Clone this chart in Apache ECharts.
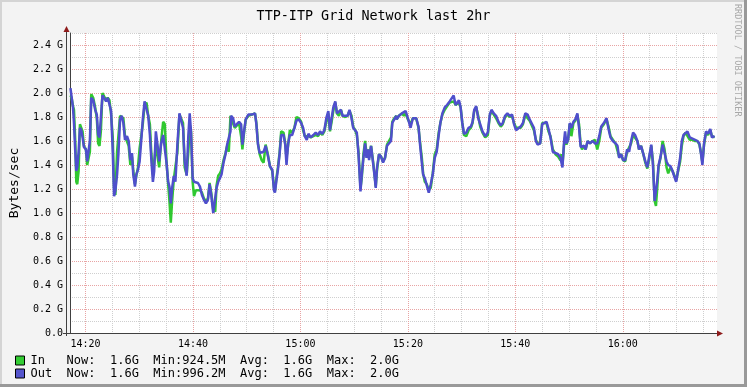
<!DOCTYPE html>
<html>
<head>
<meta charset="utf-8">
<script src="https://cdn.jsdelivr.net/npm/echarts@6/dist/echarts.min.js"></script>
<style>
html,body{margin:0;padding:0;background:#f3f3f3;}
#c{width:747px;height:387px;}
</style>
</head>
<body>
<div id="c"></div>
<script>
// time in minutes after 14:00
const times = [
17.2,17.41,17.66,17.85,18.09,18.28,18.46,18.71,18.96,19.2,19.45,19.7,20.07,20.31,20.56,20.81,21.06,21.43,21.8,22.1,22.35,22.6,22.85,23.15,23.52,23.83,24.14,24.45,24.76,25.07,25.31,25.56,25.87,26.12,26.43,26.73,27.04,27.35,27.72,28.03,28.34,28.65,28.89,29.2,29.45,29.76,30.07,30.38,30.68,30.99,31.36,31.67,31.98,32.23,32.54,32.78,33.09,33.4,33.71,34.08,34.45,34.76,35.07,35.38,35.62,35.87,36.12,36.43,36.73,37.1,37.48,37.85,38.15,38.46,38.83,39.14,39.39,39.64,39.94,40.19,40.56,40.93,41.3,41.67,42.04,42.41,42.78,43.09,43.4,43.77,44.14,44.39,44.7,45.01,45.31,45.69,46.06,46.36,46.67,46.98,
47.10,47.47,47.78,48.15,48.58,48.96,49.20,49.51,49.82,50.31,50.93,51.55,51.80,52.10,52.41,52.78,53.15,53.52,53.89,54.33,54.76,55.07,55.25,55.50,55.81,56.12,56.42,56.86,57.17,57.41,57.72,58.03,58.46,58.89,59.26,59.70,60.13,60.50,60.81,61.18,61.49,61.92,62.41,62.84,63.28,63.65,64.08,64.45,64.82,65.19,65.50,65.81,66.12,66.49,66.80,67.17,67.54,67.85,68.34,68.77,69.14,69.51,69.82,70.19,70.50,70.81,71.18,71.42,71.73,72.04,72.29,72.54,72.78,73.15,73.52,73.77,74.02,74.26,74.63,75.00,75.38,75.75,76.12,76.49,76.86,77.10,77.47,77.85,
77.91,78.34,78.89,79.26,79.57,80.00,80.50,80.93,81.55,81.98,82.29,82.60,82.84,83.15,83.52,83.89,84.26,84.63,85.00,85.37,85.74,86.05,86.42,86.86,87.29,87.78,88.15,88.52,88.89,89.20,89.51,89.82,90.13,90.44,90.87,91.30,91.73,92.04,92.35,92.72,93.09,93.46,93.89,94.39,94.88,95.25,95.56,95.99,96.42,96.86,97.29,97.66,98.09,98.52,98.95,99.39,99.76,100.13,100.50,100.99,101.42,101.86,102.29,102.66,103.03,103.46,103.83,104.14,104.63,105.00,105.37,105.81,106.18,106.55,106.98,107.47,107.97,108.40,
108.58,108.77,109.08,109.26,109.51,109.82,110.13,110.44,110.81,111.18,111.55,111.86,112.16,112.41,112.78,113.09,113.46,113.89,114.39,114.82,115.25,115.62,115.99,116.48,116.98,117.35,117.72,118.15,118.65,119.02,119.32,119.69,120.06,120.44,120.81,121.18,121.55,121.92,122.29,122.72,123.03,123.40,123.83,124.20,124.57,124.88,125.31,125.62,125.93,126.18,126.42,126.67,127.04,127.41,127.78,128.15,128.46,128.89,129.26,129.63,129.94,130.31,130.68,130.99,131.30,131.67,132.04,132.47,132.97,133.46,133.89,134.26,134.57,134.82,135.13,135.50,135.87,136.30,136.60,136.91,137.10
];
// GB/s
const inValues = [
1.98,1.96,1.89,1.86,1.60,1.26,1.24,1.35,1.74,1.74,1.68,1.56,1.53,1.40,1.39,1.51,1.99,1.96,1.88,1.79,1.58,1.56,1.68,2.00,1.99,1.94,1.96,1.94,1.82,1.63,1.21,1.15,1.51,1.64,1.81,1.82,1.79,1.64,1.63,1.56,1.40,1.47,1.35,1.24,1.31,1.38,1.54,1.64,1.75,1.90,1.92,1.81,1.74,1.51,1.32,1.31,1.56,1.57,1.38,1.60,1.76,1.74,1.43,1.24,1.10,0.92,1.10,1.28,1.29,1.51,1.82,1.83,1.75,1.38,1.32,1.51,1.74,1.68,1.26,1.14,1.19,1.18,1.19,1.17,1.12,1.10,1.12,1.25,1.17,1.03,1.01,1.23,1.31,1.33,1.36,1.44,1.50,1.56,1.51,1.81,
1.79,1.79,1.71,1.71,1.75,1.64,1.53,1.67,1.78,1.81,1.82,1.83,1.75,1.58,1.49,1.44,1.42,1.57,1.50,1.39,1.35,1.21,1.18,1.28,1.38,1.50,1.68,1.67,1.58,1.46,1.57,1.69,1.67,1.71,1.80,1.79,1.76,1.69,1.64,1.63,1.64,1.63,1.64,1.65,1.64,1.67,1.65,1.68,1.76,1.83,1.68,1.76,1.85,1.92,1.83,1.81,1.86,1.81,1.80,1.81,1.85,1.81,1.72,1.69,1.65,1.51,1.21,1.29,1.49,1.60,1.50,1.53,1.46,1.56,1.43,1.33,1.22,1.36,1.49,1.47,1.43,1.46,1.57,1.57,1.63,1.76,1.79,1.81,
1.78,1.81,1.83,1.81,1.83,1.78,1.74,1.79,1.79,1.71,1.58,1.46,1.33,1.26,1.24,1.19,1.21,1.33,1.49,1.53,1.67,1.75,1.82,1.86,1.89,1.92,1.93,1.93,1.90,1.90,1.92,1.88,1.75,1.65,1.64,1.69,1.71,1.75,1.85,1.88,1.81,1.72,1.67,1.63,1.65,1.81,1.85,1.82,1.79,1.75,1.72,1.74,1.80,1.82,1.80,1.81,1.75,1.71,1.70,1.71,1.74,1.82,1.79,1.77,1.78,1.69,1.61,1.58,1.58,1.75,1.76,1.75,1.68,1.64,1.53,1.49,1.47,1.44,
1.49,1.40,1.57,1.63,1.57,1.61,1.74,1.64,1.75,1.77,1.82,1.74,1.57,1.53,1.56,1.53,1.60,1.58,1.60,1.61,1.53,1.60,1.71,1.74,1.78,1.72,1.64,1.61,1.58,1.57,1.47,1.49,1.44,1.43,1.51,1.50,1.58,1.65,1.64,1.60,1.53,1.56,1.49,1.42,1.37,1.44,1.56,1.43,1.10,1.06,1.21,1.39,1.46,1.60,1.53,1.38,1.33,1.38,1.35,1.31,1.27,1.35,1.43,1.56,1.64,1.67,1.68,1.61,1.61,1.60,1.60,1.57,1.50,1.42,1.57,1.67,1.65,1.69,1.64,1.63,1.63
];
const outValues = [
2.04,2.03,1.88,1.75,1.51,1.35,1.38,1.51,1.71,1.69,1.63,1.55,1.53,1.43,1.44,1.60,1.96,1.94,1.86,1.82,1.65,1.63,1.79,1.98,1.97,1.93,1.96,1.95,1.85,1.51,1.14,1.19,1.32,1.49,1.78,1.81,1.75,1.61,1.64,1.60,1.44,1.50,1.32,1.22,1.32,1.36,1.43,1.61,1.79,1.93,1.92,1.81,1.65,1.46,1.26,1.35,1.68,1.57,1.43,1.58,1.65,1.64,1.42,1.26,1.22,1.08,1.21,1.31,1.26,1.57,1.83,1.83,1.71,1.43,1.31,1.65,1.83,1.67,1.29,1.26,1.26,1.25,1.22,1.15,1.11,1.08,1.11,1.24,1.15,1.00,1.01,1.21,1.26,1.29,1.32,1.42,1.49,1.57,1.56,1.68,
1.81,1.79,1.72,1.74,1.76,1.74,1.57,1.68,1.78,1.82,1.82,1.83,1.74,1.57,1.50,1.50,1.51,1.56,1.49,1.39,1.36,1.19,1.17,1.26,1.36,1.49,1.65,1.65,1.57,1.40,1.58,1.65,1.65,1.71,1.77,1.78,1.75,1.71,1.64,1.61,1.66,1.63,1.65,1.67,1.65,1.68,1.66,1.69,1.79,1.85,1.69,1.79,1.88,1.93,1.83,1.82,1.86,1.81,1.81,1.81,1.86,1.79,1.71,1.72,1.67,1.49,1.18,1.32,1.46,1.58,1.46,1.53,1.44,1.56,1.42,1.32,1.21,1.38,1.49,1.47,1.42,1.46,1.56,1.56,1.60,1.75,1.78,1.81,
1.78,1.81,1.83,1.82,1.85,1.79,1.71,1.79,1.79,1.72,1.56,1.42,1.32,1.29,1.28,1.17,1.24,1.32,1.46,1.51,1.65,1.75,1.83,1.88,1.90,1.93,1.94,1.98,1.90,1.90,1.94,1.88,1.75,1.66,1.67,1.71,1.72,1.76,1.86,1.89,1.79,1.74,1.68,1.64,1.67,1.82,1.86,1.83,1.81,1.76,1.73,1.75,1.81,1.83,1.81,1.82,1.74,1.69,1.68,1.72,1.75,1.83,1.82,1.78,1.79,1.71,1.60,1.57,1.58,1.74,1.75,1.76,1.70,1.63,1.51,1.50,1.49,1.46,
1.47,1.38,1.60,1.68,1.58,1.61,1.75,1.71,1.76,1.78,1.83,1.71,1.55,1.54,1.56,1.53,1.60,1.58,1.60,1.58,1.58,1.64,1.72,1.75,1.79,1.70,1.63,1.60,1.58,1.56,1.46,1.49,1.44,1.44,1.53,1.51,1.60,1.67,1.65,1.60,1.53,1.56,1.49,1.43,1.38,1.46,1.57,1.40,1.10,1.10,1.27,1.40,1.47,1.57,1.50,1.43,1.40,1.39,1.35,1.30,1.26,1.36,1.46,1.60,1.65,1.64,1.68,1.63,1.62,1.61,1.60,1.58,1.49,1.40,1.58,1.68,1.66,1.70,1.63,1.63,1.64
];
const seriesNames = ['In', 'Out'];
const statNow = ['1.6G', '1.6G'];
const statMin = ['924.5M', '996.2M'];
const statAvg = ['1.6G', '1.6G'];
const statMax = ['2.0G', '2.0G'];
const xTickMinutes = [20,25,30,35,40,45,50,55,60,65,70,75,80,85,90,95,100,105,110,115,120,125,130,135];
const xLabelMinutes = [20,40,60,80,100,120];

const MONO = 'DejaVu Sans Mono';
const RED_GRID = '#E8A4A4';
const GREY_GRID = '#CFCFCF';

function hhmm(m) {
  const h = 14 + Math.floor(m / 60);
  const mm = Math.round(m % 60);
  return h + ':' + (mm < 10 ? '0' : '') + mm;
}
function pad(s, n) { while (s.length < n) s += ' '; return s; }
const legendText = {};
seriesNames.forEach((n, i) => {
  legendText[n] = pad(n, 5) + 'Now:  ' + statNow[i] + '  Min:' + statMin[i] + '  Avg:  ' + statAvg[i] + '  Max:  ' + statMax[i];
});

const inData = times.map((t, i) => [t, inValues[i]]);
const outData = times.map((t, i) => [t, outValues[i]]);

const chart = echarts.init(document.getElementById('c'), null, {renderer: 'canvas'});
chart.setOption({
  animation: false,
  backgroundColor: '#F3F3F3',
  title: {
    text: 'TTP-ITP Grid Network last 2hr',
    left: 'center', top: 5,
    textStyle: {fontFamily: MONO, fontSize: 13.4, fontWeight: 'normal', color: '#000'}
  },
  legend: {
    orient: 'vertical', left: 15, top: 354, width: 450, height: 30,
    padding: 0,
    itemWidth: 9, itemHeight: 9, itemGap: 0,
    icon: 'rect', selectedMode: false,
    itemStyle: {borderColor: '#000', borderWidth: 1},
    textStyle: {fontFamily: MONO, fontSize: 12, lineHeight: 13, color: '#000', padding: [0, 0, 0, 1]},
    formatter: name => legendText[name],
    data: seriesNames
  },
  grid: {left: 67, right: 30, top: 33, bottom: 54, show: true, backgroundColor: '#FFFFFF', borderWidth: 0},
  xAxis: {
    type: 'value', min: 17.11, max: 137.54,
    axisLine: {show: true, lineStyle: {color: '#404040', width: 1}},
    axisTick: {show: false, customValues: xTickMinutes},
    axisLabel: {customValues: xLabelMinutes, formatter: v => hhmm(v), fontFamily: MONO, fontSize: 10, color: '#000', margin: 6},
    splitLine: {show: true, lineStyle: {color: [RED_GRID, GREY_GRID, GREY_GRID, GREY_GRID], type: [1, 1], width: 1}}
  },
  yAxis: {
    type: 'value', min: 0, max: 2.5, interval: 0.1,
    name: 'Bytes/sec', nameLocation: 'middle', nameGap: 49,
    nameTextStyle: {fontFamily: MONO, fontSize: 13, color: '#000'},
    axisLine: {show: true, lineStyle: {color: '#404040', width: 1}},
    axisTick: {show: false},
    axisLabel: {
      fontFamily: MONO, fontSize: 10, color: '#000', margin: 7,
      formatter: v => {
        const k = Math.round(v * 10);
        if (k === 0) return '0.0';
        if (k % 2 !== 0 || k > 24) return '';
        return (k / 10).toFixed(1) + ' G';
      }
    },
    splitLine: {show: true, lineStyle: {color: [RED_GRID, GREY_GRID], type: [1, 1], width: 1}}
  },
  graphic: [
    {type: 'rect', shape: {x: 0, y: 0, width: 747, height: 2}, style: {fill: '#D4D4D4'}, silent: true},
    {type: 'rect', shape: {x: 0, y: 0, width: 2, height: 387}, style: {fill: '#D4D4D4'}, silent: true},
    {type: 'rect', shape: {x: 744, y: 0, width: 3, height: 387}, style: {fill: '#999999'}, silent: true},
    {type: 'rect', shape: {x: 0, y: 384, width: 747, height: 3}, style: {fill: '#999999'}, silent: true},
    {type: 'line', shape: {x1: 66.5, y1: 336, x2: 66.5, y2: 30}, style: {stroke: '#404040', lineWidth: 1}, silent: true, z: 10},
    {type: 'line', shape: {x1: 63, y1: 333.5, x2: 718, y2: 333.5}, style: {stroke: '#404040', lineWidth: 1}, silent: true, z: 10},
    {type: 'polygon', shape: {points: [[63.5, 32], [69.5, 32], [66.5, 26]]}, style: {fill: '#8E1B1B'}, silent: true, z: 11},
    {type: 'polygon', shape: {points: [[717, 330.5], [717, 336.5], [723, 333.5]]}, style: {fill: '#8E1B1B'}, silent: true, z: 11},
    {type: 'text', x: 737.5, y: 4, rotation: -Math.PI / 2, z: 20,
      style: {text: 'RRDTOOL / TOBI OETIKER', font: '8.5px "DejaVu Sans Mono"', fill: '#A8A8A8', align: 'left', verticalAlign: 'middle'}, silent: true}
  ],
  series: [
    {name: 'In', type: 'line', data: inData, showSymbol: false, symbol: 'none',
      color: '#33CC33', lineStyle: {color: '#30C830', width: 2.5}, z: 2},
    {name: 'Out', type: 'line', data: outData, showSymbol: false, symbol: 'none',
      color: '#5454CC', lineStyle: {color: '#4F4FCC', width: 2.5}, z: 3}
  ]
});
</script>
</body>
</html>
